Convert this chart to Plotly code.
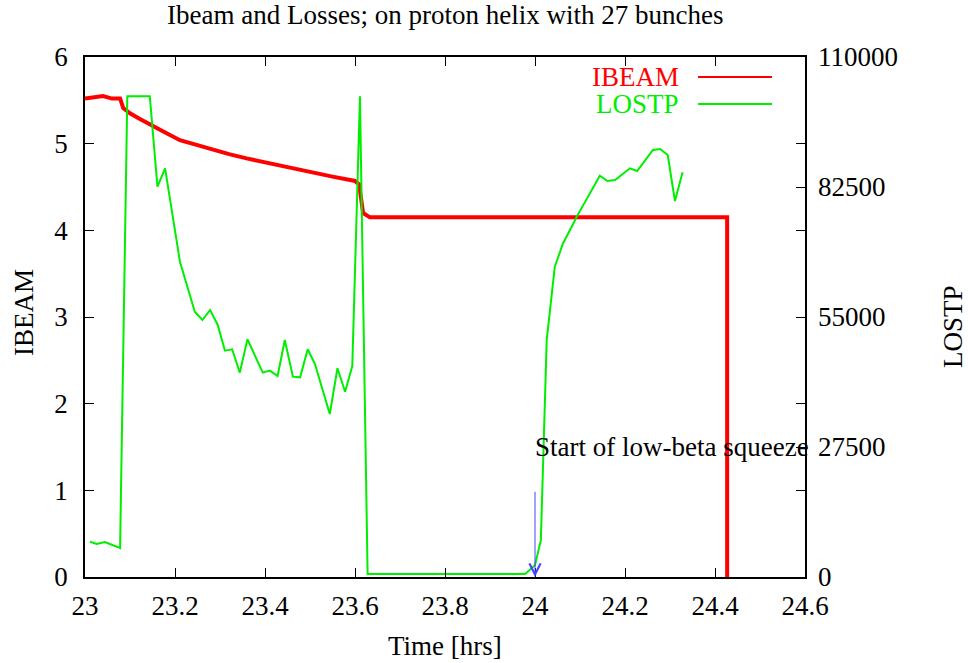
import plotly.graph_objects as go

# Beam intensity (IBEAM, left axis) against time in hours
ibeam_t = [23.0, 23.02, 23.04, 23.06, 23.078, 23.085, 23.1, 23.12, 23.137, 23.155, 23.174,
           23.211, 23.25, 23.285, 23.32, 23.359, 23.395, 23.433, 23.47, 23.507, 23.55,
           23.6, 23.609, 23.614, 23.618, 23.633, 24.0, 24.427, 24.427]
ibeam_v = [5.52, 5.53, 5.55, 5.52, 5.52, 5.41, 5.35, 5.29, 5.24, 5.19, 5.14,
           5.04, 4.98, 4.93, 4.88, 4.83, 4.79, 4.74, 4.70, 4.66, 4.62,
           4.57, 4.53, 4.35, 4.20, 4.15, 4.15, 4.15, 0.0]

# Proton losses (LOSTP, right axis)
lostp_t = [23.011, 23.026, 23.044, 23.078, 23.094, 23.144, 23.161, 23.178, 23.211, 23.244,
           23.261, 23.278, 23.295, 23.311, 23.327, 23.344, 23.361, 23.378, 23.395, 23.411,
           23.428, 23.444, 23.462, 23.478, 23.495, 23.511, 23.544, 23.561, 23.578, 23.594,
           23.611, 23.628, 23.978, 24.0, 24.013, 24.026, 24.044, 24.062, 24.078, 24.094,
           24.111, 24.128, 24.144, 24.161, 24.178, 24.211, 24.227, 24.262, 24.278, 24.295,
           24.311, 24.328]
lostp_v = [7470, 6980, 7400, 6130, 101700, 101700, 82560, 86450, 66700, 56120,
           54360, 56480, 53310, 47880, 48170, 43230, 50290, 46610, 43230, 43650,
           42520, 50130, 42380, 42240, 48170, 45060, 34480, 44150, 39200, 44630,
           101700, 650, 650, 2500, 7800, 50130, 65630, 70500, 73600, 76400,
           79300, 82200, 84900, 83770, 83970, 86450, 85880, 90330, 90540, 89270,
           79540, 85600]

x_ticks = [23, 23.2, 23.4, 23.6, 23.8, 24, 24.2, 24.4, 24.6]
x_tick_text = ["23", "23.2", "23.4", "23.6", "23.8", "24", "24.2", "24.4", "24.6"]
y_ticks = [0, 1, 2, 3, 4, 5, 6]
y2_ticks = [0, 27500, 55000, 82500, 110000]
y2_tick_text = ["0", "27500", "55000", "82500", "110000"]

squeeze_time = 24.0

FONT = "Liberation Serif"
FS = 27
W, H = 968, 663
L, R, T, B = 85, 805, 57, 577  # plot area edges in pixels


def px(xp):
    return (xp - L) / (R - L)


def py(yp):
    return (B - yp) / (B - T)


fig = go.Figure()
fig.add_trace(go.Scatter(x=ibeam_t, y=ibeam_v, mode="lines", name="IBEAM",
                         line=dict(color="#ff0000", width=4), yaxis="y"))
fig.add_trace(go.Scatter(x=lostp_t, y=lostp_v, mode="lines", name="LOSTP",
                         line=dict(color="#00ee00", width=2), yaxis="y2"))

tick_font = dict(family=FONT, size=FS, color="black")
axis_common = dict(showline=True, linecolor="black", linewidth=1.5, ticks="inside",
                   ticklen=9, tickwidth=1, tickcolor="black", showgrid=False,
                   zeroline=False, tickfont=tick_font)

fig.update_layout(
    width=W, height=H,
    margin=dict(l=L, r=W - R, t=T, b=H - B),
    paper_bgcolor="white", plot_bgcolor="white",
    showlegend=False,
    xaxis=dict(range=[23, 24.6], tickvals=x_ticks, ticktext=x_tick_text, mirror="ticks",
               ticklabelstandoff=4, **axis_common),
    yaxis=dict(range=[0, 6], tickvals=y_ticks, mirror="ticks", ticklabelstandoff=10,
               **axis_common),
    yaxis2=dict(range=[0, 110000], tickvals=y2_ticks, ticktext=y2_tick_text,
                overlaying="y", side="right", showline=False, ticks="inside", ticklen=9,
                tickwidth=1, tickcolor="black", showgrid=False, zeroline=False,
                ticklabelstandoff=12, tickfont=tick_font),
)

# Title and axis titles
text_font = dict(family=FONT, size=FS, color="black")
fig.add_annotation(x=px(445), y=py(15), xref="paper", yref="paper",
                   text="Ibeam and Losses; on proton helix with 27 bunches",
                   showarrow=False, xanchor="center", yanchor="middle", font=text_font)
fig.add_annotation(x=px(445), y=py(646), xref="paper", yref="paper", text="Time [hrs]",
                   showarrow=False, xanchor="center", yanchor="middle", font=text_font)
fig.add_annotation(x=px(24), y=py(313), xref="paper", yref="paper", text="IBEAM",
                   textangle=-90, showarrow=False, xanchor="center", yanchor="middle",
                   font=text_font)
fig.add_annotation(x=px(953), y=py(327), xref="paper", yref="paper", text="LOSTP",
                   textangle=-90, showarrow=False, xanchor="center", yanchor="middle",
                   font=text_font)

# Label and arrow marking the start of the low-beta squeeze
fig.add_annotation(x=squeeze_time, y=1.5, xref="x", yref="y", text="Start of low-beta squeeze",
                   showarrow=False, xanchor="left", yanchor="middle", xshift=-2,
                   font=text_font)
fig.add_annotation(x=squeeze_time, y=0, xref="x", yref="y", ax=squeeze_time, ay=1,
                   axref="x", ayref="y", text="", showarrow=True, arrowhead=5,
                   arrowsize=2.2, arrowwidth=1, arrowcolor="#4444ff", standoff=0)

# Key in the top-right corner: label then line sample
for name, color, ypx in [("IBEAM", "#ff0000", 77), ("LOSTP", "#00ee00", 104)]:
    fig.add_annotation(x=px(681), y=py(ypx), xref="paper", yref="paper", text=name,
                       showarrow=False, xanchor="right", yanchor="middle",
                       font=dict(family=FONT, size=FS, color=color))
    fig.add_shape(type="line", xref="paper", yref="paper",
                  x0=px(698), x1=px(772), y0=py(ypx), y1=py(ypx),
                  line=dict(color=color, width=2))

fig.write_html("out.html")
